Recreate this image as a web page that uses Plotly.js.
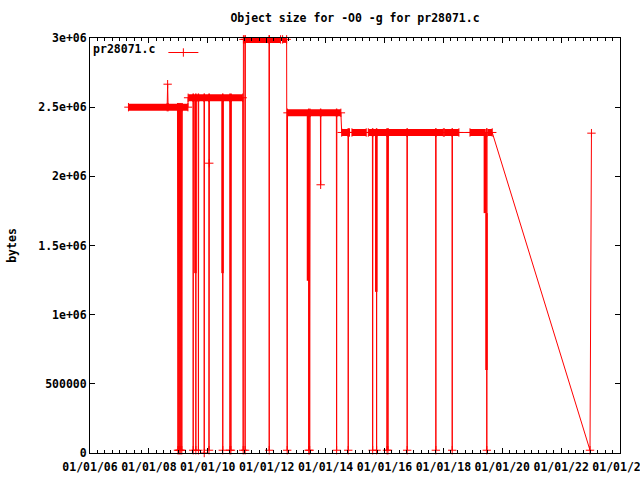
<!DOCTYPE html>
<html>
<head>
<meta charset="utf-8">
<script src="https://cdn.plot.ly/plotly-3.0.1.min.js"></script>
<style>html,body{margin:0;padding:0;background:#fff;}#chart{width:640px;height:480px;}</style>
</head>
<body>
<div id="chart"></div>
<script>
// ---- measured series (date, object size in bytes) ----
var dates = [
 '2007-04-23','2008-08-15','2008-08-21','2008-08-27','2008-12-21','2008-12-27','2009-01-02','2009-01-08',
 '2009-01-14','2009-01-20','2009-01-26','2009-02-01','2009-02-07','2009-02-13','2009-02-19','2009-04-30',
 '2009-05-02','2009-07-01','2009-07-04','2009-07-07','2009-08-03','2009-08-06','2009-08-09','2009-09-04',
 '2009-09-07','2009-09-10','2009-11-15','2009-11-18','2009-11-21','2010-01-13','2010-01-16','2010-01-19',
 '2010-01-22','2010-07-03','2010-07-06','2010-07-09','2010-09-30','2010-10-03','2010-10-09','2010-10-15',
 '2010-10-21','2011-03-10','2011-03-16',
 '2011-03-19','2011-04-06','2011-04-09','2011-04-12','2012-01-30','2012-02-02','2012-02-05','2012-06-22',
 '2012-07-17','2012-09-05','2012-09-12',
 '2012-09-16','2013-06-03','2013-06-06','2013-06-12','2013-06-18','2013-06-24','2013-10-29','2013-11-01',
 '2013-11-04','2014-05-15','2014-05-18','2014-05-21','2014-07-10',
 '2014-07-20','2014-10-06','2014-10-09','2014-10-12','2014-10-25','2014-11-24','2015-05-20','2015-06-15',
 '2015-08-05','2015-08-08','2015-08-11','2015-09-23','2015-09-26','2015-09-29','2016-01-30','2016-02-02',
 '2016-02-08','2016-02-14','2016-02-20','2016-10-06','2016-10-09','2016-10-12','2017-09-27','2017-09-30',
 '2017-10-03','2018-01-01','2018-01-13','2018-04-18','2018-04-21','2018-04-24','2018-07-13','2018-11-27',
 '2019-06-21','2019-06-24','2019-06-27','2019-08-30','2022-12-25','2023-01-12'
];
var sizes = [
 2500000,2500000,2666000,2500000,2500000,20000,2500000,20000,
 2500000,20000,2500000,20000,2500000,20000,2500000,2500000,
 2568000,2568000,20000,2568000,2568000,20000,2568000,2568000,
 20000,2568000,2568000,0,2568000,2568000,20000,2095000,
 2568000,2568000,20000,2568000,2568000,20000,2568000,20000,
 2568000,2568000,20000,
 2990000,2990000,20000,2990000,2990000,20000,2990000,2990000,
 2990000,2990000,20000,
 2459000,2459000,20000,2459000,20000,2459000,2459000,1939000,
 2459000,2459000,20000,2459000,2459000,
 2317000,2317000,20000,2317000,2317000,2317000,2317000,2317000,
 2317000,20000,2317000,2317000,20000,2317000,2317000,20000,
 2317000,20000,2317000,2317000,20000,2317000,2317000,20000,
 2317000,2317000,2317000,2317000,20000,2317000,2317000,2317000,
 2317000,20000,2317000,2317000,20000,2312000
];

// dense runs of (almost) daily measurements at a constant size
var runStart = ['2007-04-23','2009-05-02','2011-03-19','2012-07-17','2012-09-16','2014-07-20','2014-11-24','2015-06-15','2018-01-13','2018-11-27','2019-07-02'];
var runEnd   = ['2009-04-30','2011-03-10','2012-06-22','2012-09-05','2014-07-10','2014-10-25','2015-05-20','2018-01-01','2018-07-13','2019-06-11','2019-08-30'];
var runSize  = [2500000,2568000,2990000,2990000,2459000,2317000,2317000,2317000,2317000,2317000,2317000];

// clusters of partial dips
var dipDate = ['2009-08-01','2010-07-03','2013-05-28','2015-09-22','2019-05-31','2019-06-20'];
var dipFrom = [2568000,2568000,2459000,2317000,2317000,1734000];
var dipTo   = [1300000,1300000,1245000,1165000,1734000,600000];

// axis ticks
var xTickVals = ['2006-01-01','2008-01-01','2010-01-01','2012-01-01','2014-01-01','2016-01-01','2018-01-01','2020-01-01','2022-01-01','2024-01-01'];
var xTickText = ['01/01/06','01/01/08','01/01/10','01/01/12','01/01/14','01/01/16','01/01/18','01/01/20','01/01/22','01/01/24'];
var yTickVals = [0,500000,1000000,1500000,2000000,2500000,3000000];
var yTickText = ['0','500000','1e+06','1.5e+06','2e+06','2.5e+06','3e+06'];

var seriesName = 'pr28071.c';
var RED = '#ff0000';
var FONT = {family: 'DejaVu Sans Mono, monospace', size: 11.5, color: '#000', weight: 'bold'};

// build segment traces
var rx = [], ry = [];
for (var i = 0; i < runStart.length; i++) {
  rx.push(runStart[i], runEnd[i], null);
  ry.push(runSize[i], runSize[i], null);
}
var dx = [], dy = [];
for (var j = 0; j < dipDate.length; j++) {
  dx.push(dipDate[j], dipDate[j], null);
  dy.push(dipFrom[j], dipTo[j], null);
}

var traces = [
  {x: rx, y: ry, type: 'scatter', mode: 'lines', line: {color: RED, width: 7}, showlegend: false, hoverinfo: 'skip', connectgaps: false},
  {x: dx, y: dy, type: 'scatter', mode: 'lines', line: {color: RED, width: 2.5}, showlegend: false, hoverinfo: 'skip', connectgaps: false},
  {x: dates, y: sizes, type: 'scatter', mode: 'lines+markers', name: ' ',
   line: {color: RED, width: 1},
   marker: {symbol: 'cross-thin', size: 6, color: RED, line: {color: RED, width: 1}},
   cliponaxis: false}
];

var axisCommon = {
  showline: true, linecolor: '#000', linewidth: 1, mirror: 'ticks',
  ticks: 'inside', ticklen: 5, tickwidth: 1, tickcolor: '#000',
  showgrid: false, zeroline: false, tickfont: FONT
};

var layout = {
  width: 640, height: 480,
  margin: {l: 90, r: 20, t: 38, b: 27, pad: 0},
  paper_bgcolor: '#fff', plot_bgcolor: '#fff',
  font: FONT,
  title: {text: 'Object size for -O0 -g for pr28071.c', font: FONT, x: 0.5, xref: 'paper', xanchor: 'center',
          y: 1 - 18/480, yref: 'container', yanchor: 'middle'},
  xaxis: Object.assign({}, axisCommon, {
    type: 'date', range: ['2006-01-01', '2024-01-01'],
    tickmode: 'array', tickvals: xTickVals, ticktext: xTickText,
    ticklabeloverflow: 'allow', ticklabelstandoff: 3,
    minor: {dtick: 'M3', tick0: '2006-01-01', ticks: 'inside', ticklen: 3, tickcolor: '#000', showgrid: false}
  }),
  yaxis: Object.assign({}, axisCommon, {
    range: [0, 3000000], tickmode: 'array', tickvals: yTickVals, ticktext: yTickText,
    title: {text: 'bytes', font: FONT, standoff: 19}
  }),
  showlegend: true,
  legend: {x: 0.002, y: 1, xanchor: 'left', yanchor: 'top', bgcolor: 'rgba(0,0,0,0)',
           borderwidth: 0, font: FONT,
           title: {text: seriesName, side: 'left', font: FONT}}
};

Plotly.newPlot('chart', traces, layout, {staticPlot: true, displayModeBar: false});
</script>
</body>
</html>
